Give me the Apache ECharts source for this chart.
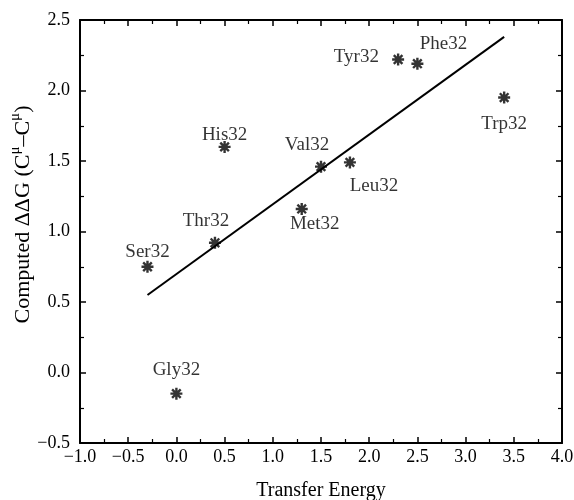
<!DOCTYPE html>
<html>
<head>
<meta charset="utf-8">
<script src="https://cdn.jsdelivr.net/npm/echarts@6/dist/echarts.min.js"></script>
<style>
  html, body { margin: 0; padding: 0; background: #fff; }
  #chart { width: 574px; height: 500px; }
</style>
</head>
<body>
<div id="chart"></div>
<script>
// 数据
const names = ['Ser32', 'Gly32', 'Thr32', 'His32', 'Met32', 'Val32', 'Leu32', 'Tyr32', 'Phe32', 'Trp32'];
const transferEnergy = [-0.3, 0.0, 0.4, 0.5, 1.3, 1.5, 1.8, 2.3, 2.5, 3.4];
const ddg = [0.75, -0.15, 0.92, 1.6, 1.16, 1.46, 1.49, 2.22, 2.19, 1.95];
const fitX = [-0.3, 3.4];
const fitY = [0.55, 2.38];

// 标签位置 (样式)
const labelPos = {
    Ser32: { position: 'top', offset: [0, 7] },
    Gly32: { position: 'top', offset: [0, -2] },
    Thr32: { position: 'top', offset: [-9, 0] },
    His32: { position: 'top', offset: [0, 10] },
    Met32: { position: 'bottom', offset: [13, -7] },
    Val32: { position: 'top', offset: [-14, 0] },
    Leu32: { position: 'bottom', offset: [24, 2] },
    Tyr32: { position: 'left', offset: [-7, -2] },
    Phe32: { position: 'top', offset: [26, 2] },
    Trp32: { position: 'bottom', offset: [0, 5] }
};

const font = 'Liberation Serif';
const star = 'path://M0,-6L0,6M-6,0L6,0M-4.3,-4.3L4.3,4.3M-4.3,4.3L4.3,-4.3';
const minus = v => String(v.toFixed(1)).replace('-', '\u2212');

function createChart(element, option) {
    let myChart = echarts.init(element);
    myChart.setOption(option);
    return myChart;
}

const axisBase = {
    type: 'value',
    axisLine: { show: true, onZero: false, lineStyle: { color: '#000', width: 2 } },
    axisTick: { show: true, inside: true, length: 6, lineStyle: { color: '#000', width: 1.5 } },
    minorTick: { show: true, splitNumber: 2, length: 4, lineStyle: { color: '#000', width: 1.2 } },
    splitLine: { show: false }
};

createChart(document.getElementById('chart'), {
    backgroundColor: '#fff',
    animation: false,
    grid: { left: 80, right: 12, top: 20, bottom: 57, containLabel: false, outerBoundsMode: 'none' },
    xAxis: [
        Object.assign({}, axisBase, {
            min: -1, max: 4, interval: 0.5, position: 'bottom',
            name: 'Transfer Energy', nameLocation: 'middle', nameGap: 38,
            nameMoveOverlap: false,
            nameTextStyle: { fontFamily: font, fontSize: 20, color: '#000' },
            axisLabel: { fontFamily: font, fontSize: 18, color: '#000', margin: 5, formatter: minus }
        }),
        Object.assign({}, axisBase, {
            min: -1, max: 4, interval: 0.5, position: 'top',
            axisLabel: { show: false }
        })
    ],
    yAxis: [
        Object.assign({}, axisBase, {
            min: -0.5, max: 2.5, interval: 0.5, position: 'left',
            name: '{n|Computed \u0394\u0394G (C}{s|\u03bc}{n|\u2013C}{s|\u03bc}{n|)}',
            nameLocation: 'middle', nameGap: 46,
            nameMoveOverlap: false,
            nameTextStyle: {
                fontFamily: font, fontSize: 22, color: '#000',
                padding: [0, 0, 0, 34],
                rich: {
                    n: { fontFamily: font, fontSize: 22, color: '#000', lineHeight: 26, verticalAlign: 'bottom' },
                    s: { fontFamily: font, fontSize: 15, color: '#000', lineHeight: 26, verticalAlign: 'top', padding: [0, 0, 7, 0] }
                }
            },
            axisLabel: { fontFamily: font, fontSize: 18, color: '#000', margin: 10, formatter: minus }
        }),
        Object.assign({}, axisBase, {
            min: -0.5, max: 2.5, interval: 0.5, position: 'right',
            axisLabel: { show: false }
        })
    ],
    series: [
        {
            type: 'line',
            data: fitX.map((x, i) => [x, fitY[i]]),
            symbol: 'none',
            lineStyle: { color: '#000', width: 2 },
            z: 2
        },
        {
            type: 'scatter',
            data: names.map((n, i) => ({
                name: n,
                value: [transferEnergy[i], ddg[i]],
                label: labelPos[n]
            })),
            symbol: star,
            symbolSize: 12,
            itemStyle: { color: 'rgba(0,0,0,0)', borderColor: '#000', borderWidth: 2.4 },
            label: {
                show: true,
                formatter: '{b}',
                fontFamily: font,
                fontSize: 19,
                color: '#000',
                distance: 5
            },
            z: 3
        }
    ]
});
</script>
</body>
</html>
